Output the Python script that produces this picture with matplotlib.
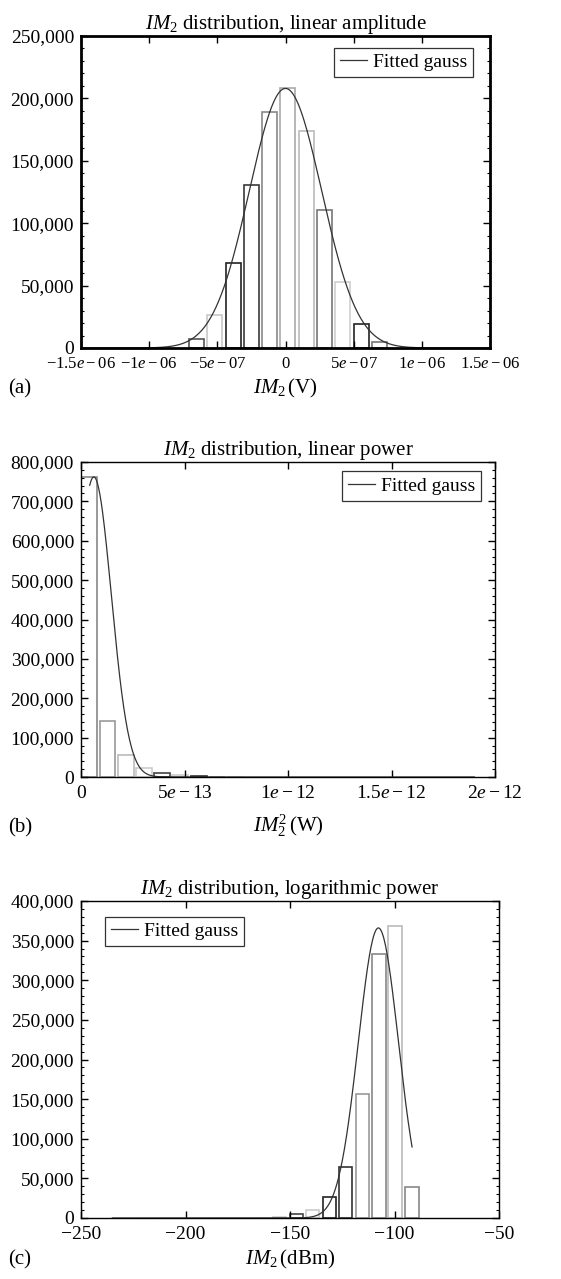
import numpy as np
import matplotlib
matplotlib.use("Agg")
import matplotlib.pyplot as plt
from matplotlib.ticker import FuncFormatter, MultipleLocator, FixedLocator

plt.rcParams['font.family'] = ['Liberation Serif', 'DejaVu Serif']
plt.rcParams['mathtext.fontset'] = 'custom'
plt.rcParams['mathtext.rm'] = 'Liberation Serif'
plt.rcParams['mathtext.it'] = 'Liberation Serif:italic'
plt.rcParams['font.size'] = 14

# (a) linear amplitude
a_centers = [-0.652e-6, -0.518e-6, -0.384e-6, -0.250e-6, -0.116e-6, 0.018e-6,
             0.152e-6, 0.286e-6, 0.420e-6, 0.554e-6, 0.688e-6]
a_counts = [7400, 26400, 68000, 130600, 189300, 208100, 173600, 110600, 52600, 19000, 5000]
a_edges = ['#555555', '#c8c8c8', '#222222', '#3a3a3a', '#888888', '#aaaaaa',
           '#bbbbbb', '#777777', '#d0d0d0', '#222222', '#777777']
a_width = 1.1e-7
a_fit = (208000, 0.0, 0.265e-6)      # amplitude, mean, sigma
a_ticks = [-1.5e-6, -1e-6, -5e-7, 0, 5e-7, 1e-6, 1.5e-6]
a_ticklabels = [r'$-1.5e-06$', r'$-1e-06$', r'$-5e-07$', '0',
                r'$5e-07$', r'$1e-06$', r'$1.5e-06$']

# (b) linear power
b_centers = [0.040e-12, 0.128e-12, 0.216e-12, 0.304e-12, 0.392e-12, 0.480e-12,
             0.568e-12, 0.656e-12, 0.744e-12]
b_counts = [762600, 142500, 55200, 22000, 9400, 5000, 2000, 1000, 500]
b_edges = ['#888888', '#999999', '#bbbbbb', '#cccccc', '#444444', '#cccccc',
           '#333333', '#aaaaaa', '#dddddd']
b_width = 0.077e-12
b_fit = (762000, 0.062e-12, 0.0845e-12)
b_ticks = [0, 5e-13, 1e-12, 1.5e-12, 2e-12]
b_ticklabels = ['0', r'$5e-13$', r'$1e-12$', r'$1.5e-12$', r'$2e-12$']

# (c) logarithmic power
c_centers = [-154.9, -147.0, -139.1, -131.2, -123.3, -115.4, -107.4, -99.8, -91.6]
c_counts = [1500, 5000, 10500, 26400, 64200, 156500, 333700, 368000, 39000]
c_edges = ['#cccccc', '#444444', '#cccccc', '#222222', '#333333', '#999999',
           '#888888', '#bbbbbb', '#888888']
c_width = 6.4
c_fit = (366000, -107.7, 9.6)
c_ticks = [-250, -200, -150, -100, -50]
c_ticklabels = ['\u2212250', '\u2212200', '\u2212150', '\u2212100', '\u221250']

W, H = 561, 1279
fig = plt.figure(figsize=(W / 100, H / 100), dpi=100)


def box(l, t, r, b):
    return [l / W, 1 - b / H, (r - l) / W, (b - t) / H]


def gauss(x, p):
    A, mu, s = p
    return A * np.exp(-(x - mu) ** 2 / (2 * s ** 2))


def style(ax, lw, ymajor, yminor):
    for s in ax.spines.values():
        s.set_linewidth(lw)
    ax.tick_params(direction='in', top=True, right=True, which='both')
    ax.tick_params(which='major', length=5, width=1, pad=5)
    ax.tick_params(axis='x', which='major', pad=6)
    ax.tick_params(which='minor', length=2.5, width=0.8)
    ax.yaxis.set_major_locator(MultipleLocator(ymajor))
    ax.yaxis.set_minor_locator(MultipleLocator(yminor))
    ax.yaxis.set_major_formatter(FuncFormatter(lambda v, p: f"{int(round(v)):,}"))


def panel(ax, centers, counts, edges, width, fit, xr, xfit, ticks, labels, xfs,
          ymax, ymajor, yminor, lw, title, legend_loc, anchor):
    ax.bar(centers, counts, width=width, fill=False, edgecolor=edges, linewidth=1.2)
    xs = np.linspace(xfit[0], xfit[1], 600)
    ax.plot(xs, gauss(xs, fit), color='#333333', linewidth=0.9, label='Fitted gauss')
    ax.set_xlim(*xr)
    ax.set_ylim(0, ymax)
    ax.xaxis.set_major_locator(FixedLocator(ticks))
    ax.set_xticklabels(labels, fontsize=xfs)
    style(ax, lw, ymajor, yminor)
    ax.set_title(title, fontsize=15, pad=4)
    leg = ax.legend(loc=legend_loc, bbox_to_anchor=anchor, borderaxespad=0,
                    fancybox=False, handlelength=1.4, handletextpad=0.3,
                    borderpad=0.3, fontsize=14)
    leg.get_frame().set_edgecolor('black')
    leg.get_frame().set_linewidth(0.9)


ax1 = fig.add_axes(box(81, 36, 490, 348))
panel(ax1, a_centers, a_counts, a_edges, a_width, a_fit, (-1.5e-6, 1.5e-6),
      (-1.5e-6, 1.5e-6), a_ticks, a_ticklabels, 12, 250000, 50000, 10000, 2.0,
      r'$IM_2$ distribution, linear amplitude', 'upper right', (0.958, 0.962))
fig.text(8 / W, 1 - 393 / H, '(a)', fontsize=15)
fig.text(285 / W, 1 - 393 / H, r'$IM_2\,$(V)', fontsize=15, ha='center')

ax2 = fig.add_axes(box(81, 462, 495, 777))
panel(ax2, b_centers, b_counts, b_edges, b_width, b_fit, (0, 2e-12),
      (0.042e-12, 1.9e-12), b_ticks, b_ticklabels, 14, 800000, 100000, 20000, 1.0,
      r'$IM_2$ distribution, linear power', 'upper right', (0.966, 0.970))
fig.text(8 / W, 1 - 832 / H, '(b)', fontsize=15)
fig.text(288 / W, 1 - 832 / H, r'$IM_2^2\,$(W)', fontsize=15, ha='center')

ax3 = fig.add_axes(box(81, 901, 499, 1218))
panel(ax3, c_centers, c_counts, c_edges, c_width, c_fit, (-250, -50),
      (-235, -91.6), c_ticks, c_ticklabels, 14, 400000, 50000, 10000, 1.0,
      r'$IM_2$ distribution, logarithmic power', 'upper left', (0.057, 0.950))
fig.text(8 / W, 1 - 1264 / H, '(c)', fontsize=15)
fig.text(290 / W, 1 - 1264 / H, r'$IM_2\,$(dBm)', fontsize=15, ha='center')

fig.savefig('out.png', dpi=100)
